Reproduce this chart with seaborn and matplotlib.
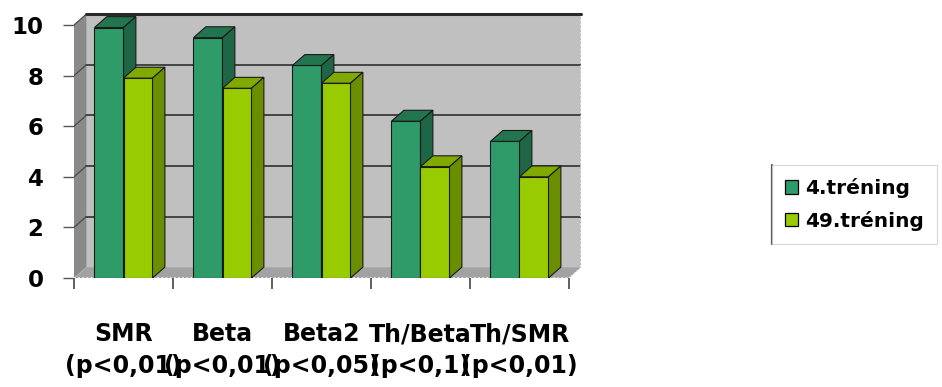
import matplotlib
matplotlib.use("Agg")
import matplotlib.pyplot as plt
from matplotlib.patches import Polygon, Patch
from matplotlib.lines import Line2D
import seaborn as sns
import pandas as pd

categories = ["SMR\n(p<0,01)", "Beta\n(p<0,01)", "Beta2\n(p<0,05)", "Th/Beta\n(p<0,1)", "Th/SMR\n(p<0,01)"]
series_names = ["4.tréning", "49.tréning"]
training_4 = [9.9, 9.5, 8.4, 6.2, 5.4]
training_49 = [7.9, 7.5, 7.7, 4.4, 4.0]
y_ticks = [0, 2, 4, 6, 8, 10]

front_colors = ["#2F9B69", "#99CC00"]
top_colors = ["#23754F", "#80AA00"]
side_colors = ["#1E6646", "#698E00"]

sns.set_theme(style="white")
plt.rcParams["font.family"] = ["DejaVu Sans"]
plt.rcParams["font.weight"] = "bold"
plt.rcParams["text.color"] = "black"
plt.rcParams["xtick.labelcolor"] = "black"
plt.rcParams["ytick.labelcolor"] = "black"

df = pd.DataFrame({
    "category": categories * 2,
    "series": [series_names[0]] * 5 + [series_names[1]] * 5,
    "value": training_4 + training_49,
})

W, H = 942, 387
fig = plt.figure(figsize=(W / 100, H / 100), dpi=100)

# depth of the 3D projection in data units
dx, dy = 0.125, 0.43
x0, x1 = -0.5, 4.5
ymax = 10

# plot area in pixels (measured from the top-left corner)
cat_px = 99
px_left, px_bottom = 74, 278
px_right = px_left + (x1 + dx - x0) * cat_px
px_top = px_bottom - (ymax + dy) * 25.3
ax = fig.add_axes([px_left / W, 1 - px_bottom / H, (px_right - px_left) / W, (px_bottom - px_top) / H])

sns.barplot(data=df, x="category", y="value", hue="series", palette=front_colors,
            width=0.586, dodge=True, ax=ax, legend=False, edgecolor="#1a1a1a",
            linewidth=0.8, saturation=1)
bars = list(ax.patches)

ax.set_xlim(x0, x1 + dx)
ax.set_ylim(0, ymax + dy)

# back wall, left wall and floor
ax.add_patch(Polygon([(x0 + dx, dy), (x1 + dx, dy), (x1 + dx, ymax + dy), (x0 + dx, ymax + dy)],
                     closed=True, facecolor="#C0C0C0", edgecolor="none", zorder=0))
ax.add_patch(Polygon([(x0, 0), (x0 + dx, dy), (x0 + dx, ymax + dy), (x0, ymax)],
                     closed=True, facecolor="#8A8A8A", edgecolor="none", zorder=0.5))
ax.add_patch(Polygon([(x0, 0), (x1, 0), (x1 + dx, dy), (x0 + dx, dy)],
                     closed=True, facecolor="#A2A2A2", edgecolor="none", zorder=0.6))
ax.plot([x0, x1], [0, 0], color="#f0f0f0", lw=1.2, linestyle=(0, (1, 1.5)), zorder=0.65)
ax.plot([x1, x1 + dx], [0, dy], color="#f0f0f0", lw=1.0, linestyle=(0, (1, 1.5)), zorder=0.65)
for v in y_ticks[1:]:
    ax.plot([x0 + dx, x1 + dx], [v + dy, v + dy], color="#3a3a3a", lw=1.3, zorder=0.7)
    ax.plot([x0, x0 + dx], [v, v + dy], color="#4a4a4a", lw=0.9, zorder=0.7)
ax.plot([x0 + dx, x1 + dx], [ymax + dy, ymax + dy], color="#2a2a2a", lw=2.2, zorder=0.75,
        clip_on=False)
ax.plot([x1 + dx, x1 + dx], [dy, ymax + dy], color="#e8e8e8", lw=1.2,
        linestyle=(0, (1, 1.5)), zorder=0.7)

# give each bar a top and a side face
n = len(categories)
for i, bar in enumerate(bars):
    s = 0 if i < n else 1
    x, w, h = bar.get_x(), bar.get_width(), bar.get_height()
    z = 3 + s
    bar.set_zorder(z)
    ax.add_patch(Polygon([(x, h), (x + w, h), (x + w + dx, h + dy), (x + dx, h + dy)],
                         closed=True, facecolor=top_colors[s], edgecolor="#1a1a1a",
                         linewidth=0.8, zorder=z))
    ax.add_patch(Polygon([(x + w, 0), (x + w + dx, dy), (x + w + dx, h + dy), (x + w, h)],
                         closed=True, facecolor=side_colors[s], edgecolor="#1a1a1a",
                         linewidth=0.8, zorder=z))

for sp in ax.spines.values():
    sp.set_visible(False)

ax.set_yticks(y_ticks)
ax.set_yticklabels([str(t) for t in y_ticks], fontsize=16.5, fontweight="bold", color="black")
ax.tick_params(axis="y", which="major", left=True, length=8, width=1, color="#555555", pad=14)

ax.set_xticks(range(n))
ax.set_xticklabels(categories, fontsize=17, fontweight="bold", linespacing=1.38, color="black")
ax.set_xticks([x0 + k for k in range(n + 1)], minor=True)
ax.tick_params(axis="x", which="major", bottom=False, length=0, pad=32)
ax.tick_params(axis="x", which="minor", bottom=True, length=8, width=1.2, color="#444444")
ax.set_xlabel("")
ax.set_ylabel("")
ax.grid(False)

handles = [Patch(facecolor=front_colors[k], edgecolor="black", linewidth=0.9) for k in range(2)]
leg = fig.legend(handles, series_names, loc="upper left", bbox_to_anchor=(772 / W, 1 - 165 / H),
                 frameon=True, fancybox=False, fontsize=14.5, handlelength=0.65, handleheight=0.65,
                 handletextpad=0.35, borderpad=0.65, labelspacing=0.63, borderaxespad=0)
leg.get_frame().set_edgecolor("#cccccc")
leg.get_frame().set_linewidth(0.8)
for t in leg.get_texts():
    t.set_fontweight("bold")
    t.set_color("black")

# darker left border of the legend box
fig.canvas.draw()
bb = leg.get_frame().get_window_extent().transformed(fig.transFigure.inverted())
fig.add_artist(Line2D([bb.x0, bb.x0], [bb.y0, bb.y1], transform=fig.transFigure,
                      color="#555555", lw=1.6))

fig.savefig("out.png", dpi=100, facecolor="white")
